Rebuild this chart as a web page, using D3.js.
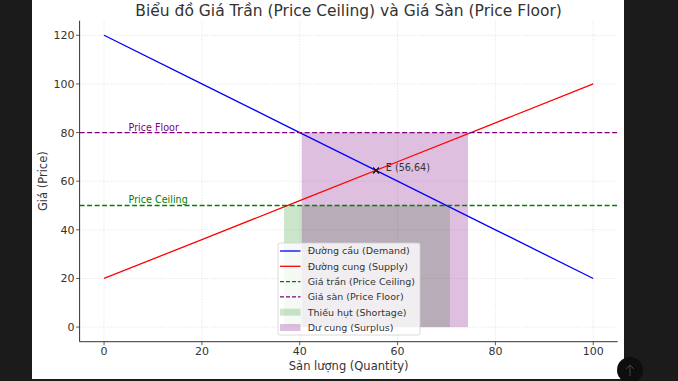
<!DOCTYPE html>
<html><head><meta charset="utf-8">
<script src="https://cdn.jsdelivr.net/npm/d3@7"></script>
<style>
html,body{margin:0;padding:0;background:#fff;}
svg{display:block;font-family:"DejaVu Sans",sans-serif;}
</style></head>
<body>
<svg id="chart" width="678" height="381"></svg>
<script>
// ---- data ----
const quantity = [0, 20, 40, 60, 80, 100];
const demand = [120, 100, 80, 60, 40, 20];
const supply = [20, 36, 52, 68, 84, 100];
const priceCeiling = 50;
const priceFloor = 80;
const shortageRange = [36.8, 70.7];
const surplusRange = [40.4, 74.4];
const equilibrium = [55.6, 64.4];
const equilibriumLabel = "E (56,64)";
const xTicks = [0, 20, 40, 60, 80, 100];
const yTicks = [0, 20, 40, 60, 80, 100, 120];
const xDomain = [-5, 105];
const yDomain = [-6, 126];
const legendLabels = ["Đường cầu (Demand)", "Đường cung (Supply)", "Giá trần (Price Ceiling)", "Giá sàn (Price Floor)", "Thiếu hụt (Shortage)", "Dư cung (Surplus)"];

const svg = d3.select("#chart");
const L = 79.6, R = 617.7, T = 20.7, B = 341.7;
const x = d3.scaleLinear().domain(xDomain).range([L, R]);
const y = d3.scaleLinear().domain(yDomain).range([B, T]);

// dark page frame
svg.append("rect").attr("x", 0).attr("y", 0).attr("width", 32).attr("height", 381).attr("fill", "#1b1b1b");
svg.append("rect").attr("x", 624).attr("y", 0).attr("width", 54).attr("height", 381).attr("fill", "#1b1b1b");
svg.append("rect").attr("x", 0).attr("y", 379).attr("width", 678).attr("height", 2).attr("fill", "#1b1b1b");
svg.append("circle").attr("cx", 630).attr("cy", 370).attr("r", 13).attr("fill", "#0e0e0e");
svg.append("path").attr("d", "M630,376 L630,365 M626,369 L630,365 L634,369").attr("stroke", "#444").attr("stroke-width", 1).attr("fill", "none");

// grid
const g = svg.append("g");
g.selectAll(".gx").data(xTicks).enter().append("line")
  .attr("x1", d => x(d)).attr("x2", d => x(d)).attr("y1", T).attr("y2", B)
  .attr("stroke", "#cfcfcf").attr("stroke-width", 0.6).attr("stroke-dasharray", "1,1.6");
g.selectAll(".gy").data(yTicks).enter().append("line")
  .attr("y1", d => y(d)).attr("y2", d => y(d)).attr("x1", L).attr("x2", R)
  .attr("stroke", "#cfcfcf").attr("stroke-width", 0.6).attr("stroke-dasharray", "1,1.6");

// fills
const greenFill = "rgba(0,128,0,0.2)", purpleFill = "rgba(128,0,128,0.25)";
svg.append("rect").attr("x", x(shortageRange[0])).attr("y", y(priceCeiling))
  .attr("width", x(shortageRange[1]) - x(shortageRange[0])).attr("height", y(0) - y(priceCeiling))
  .attr("fill", greenFill);
svg.append("rect").attr("x", x(surplusRange[0])).attr("y", y(priceFloor))
  .attr("width", x(surplusRange[1]) - x(surplusRange[0])).attr("height", y(0) - y(priceFloor))
  .attr("fill", purpleFill);

// lines
const line = d3.line().x(d => x(d[0])).y(d => y(d[1]));
svg.append("path").attr("d", line(quantity.map((q, i) => [q, demand[i]])))
  .attr("stroke", "#0000ff").attr("stroke-width", 1.3).attr("fill", "none");
svg.append("path").attr("d", line(quantity.map((q, i) => [q, supply[i]])))
  .attr("stroke", "#ff0000").attr("stroke-width", 1.3).attr("fill", "none");
svg.append("line").attr("x1", L).attr("x2", R).attr("y1", y(priceCeiling)).attr("y2", y(priceCeiling))
  .attr("stroke", "#008000").attr("stroke-width", 1.3).attr("stroke-dasharray", "5,2.5");
svg.append("line").attr("x1", L).attr("x2", R).attr("y1", y(priceFloor)).attr("y2", y(priceFloor))
  .attr("stroke", "#800080").attr("stroke-width", 1.3).attr("stroke-dasharray", "5,2.5");

// price labels
svg.append("text").attr("x", x(5)).attr("y", y(80.5)).attr("font-size", 9.6).attr("fill", "#800080").text("Price Floor");
svg.append("text").attr("x", x(5)).attr("y", y(51)).attr("font-size", 9.6).attr("fill", "#008000").text("Price Ceiling");

// equilibrium marker
const ex = x(equilibrium[0]), ey = y(equilibrium[1]);
svg.append("path").attr("d", `M${ex-3},${ey-3}L${ex+3},${ey+3}M${ex-3},${ey+3}L${ex+3},${ey-3}`)
  .attr("stroke", "#111").attr("stroke-width", 1.2);
svg.append("text").attr("x", x(equilibrium[0] + 2)).attr("y", ey + 0.8).attr("font-size", 9.6).attr("fill", "#333").text(equilibriumLabel);

// axes spines
svg.append("line").attr("x1", L).attr("x2", L).attr("y1", T).attr("y2", B).attr("stroke", "#333").attr("stroke-width", 1);
svg.append("line").attr("x1", L).attr("x2", R).attr("y1", B).attr("y2", B).attr("stroke", "#333").attr("stroke-width", 1);

// ticks
svg.selectAll(".xt").data(xTicks).enter().append("line")
  .attr("x1", d => x(d)).attr("x2", d => x(d)).attr("y1", B).attr("y2", B + 3.5).attr("stroke", "#333").attr("stroke-width", 0.8);
svg.selectAll(".xl").data(xTicks).enter().append("text")
  .attr("x", d => x(d)).attr("y", 354.5).attr("text-anchor", "middle").attr("font-size", 11).attr("fill", "#333").text(d => d);
svg.selectAll(".yt").data(yTicks).enter().append("line")
  .attr("y1", d => y(d)).attr("y2", d => y(d)).attr("x1", L - 3.5).attr("x2", L).attr("stroke", "#333").attr("stroke-width", 0.8);
svg.selectAll(".yl").data(yTicks).enter().append("text")
  .attr("x", L - 5).attr("y", d => y(d) + 4).attr("text-anchor", "end").attr("font-size", 11).attr("fill", "#333").text(d => d);

// axis labels
svg.append("text").attr("x", (L + R) / 2).attr("y", 370).attr("text-anchor", "middle").attr("font-size", 11.5).attr("fill", "#333").text("Sản lượng (Quantity)");
svg.append("text").attr("transform", `translate(47,${(T + B) / 2}) rotate(-90)`).attr("text-anchor", "middle").attr("font-size", 11.5).attr("fill", "#333").text("Giá (Price)");

// title
svg.append("text").attr("x", (L + R) / 2).attr("y", 16).attr("text-anchor", "middle").attr("font-size", 15.5).attr("fill", "#333").text("Biểu đồ Giá Trần (Price Ceiling) và Giá Sàn (Price Floor)");

// legend
const lg = svg.append("g");
lg.append("rect").attr("x", 278).attr("y", 243).attr("width", 142).attr("height", 92).attr("rx", 2)
  .attr("fill", "rgba(255,255,255,0.8)").attr("stroke", "#d0d0d0").attr("stroke-width", 0.8);
const styles = [
  {type: "line", color: "#0000ff", dash: null},
  {type: "line", color: "#ff0000", dash: null},
  {type: "line", color: "#008000", dash: "4,2"},
  {type: "line", color: "#800080", dash: "4,2"},
  {type: "patch", color: greenFill},
  {type: "patch", color: purpleFill}
];
legendLabels.forEach((lab, i) => {
  const cy = 251 + i * 15.3;
  const s = styles[i];
  if (s.type === "line") {
    lg.append("line").attr("x1", 280).attr("x2", 300.5).attr("y1", cy).attr("y2", cy)
      .attr("stroke", s.color).attr("stroke-width", 1.3).attr("stroke-dasharray", s.dash);
  } else {
    lg.append("rect").attr("x", 280).attr("y", cy - 3.5).attr("width", 20.5).attr("height", 7).attr("fill", s.color);
  }
  lg.append("text").attr("x", 307.7).attr("y", cy + 3.4).attr("font-size", 9.5).attr("fill", "#333").text(lab);
});
</script>
</body></html>
